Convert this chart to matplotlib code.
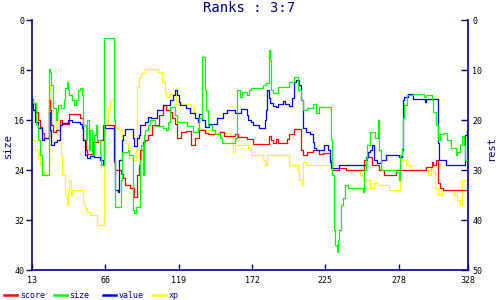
import matplotlib
matplotlib.use("Agg")
import matplotlib.pyplot as plt
from matplotlib.lines import Line2D

# ---------------- data ----------------
x_ticks = [13, 66, 119, 172, 225, 278, 328]
left_ticks = [0, 8, 16, 24, 32, 40]
right_ticks = [0, 10, 20, 30, 40, 50]

score_x = [13, 14, 15, 17, 19, 20, 22, 25, 26, 27, 28, 30, 33, 35, 40, 48, 50, 52, 53, 57,
           61, 64, 72, 73, 77, 79, 80, 84, 87, 89, 90, 91, 93, 95, 97, 100, 105, 108, 110,
           113, 114, 116, 118, 121, 124, 128, 131, 134, 138, 140, 149, 152, 160, 162, 168,
           173, 184, 186, 187, 189, 191, 197, 199, 202, 207, 209, 212, 216, 220, 223, 228,
           230, 235, 240, 253, 255, 259, 264, 267, 276, 298, 302, 303, 305, 306, 308, 310, 328]
score_y = [15.8, 16.6, 18.4, 20, 21.4, 22.6, 23.6, 16, 18, 21, 22.4, 22, 20, 20.8, 18.8, 19.6,
           24, 26, 26.8, 24.4, 24, 21, 28.4, 30, 30.8, 31.6, 33, 33.6, 35.4, 31, 29, 26, 24.4,
           24, 23, 21, 19, 17, 18, 18.4, 19.6, 20.8, 23.6, 22.4, 22.2, 25, 23.6, 22, 22.6,
           22.8, 22.4, 23.2, 22.8, 23.4, 23.8, 24.8, 23.2, 24, 24.6, 23.8, 24.6, 23.8, 22.8,
           21.8, 26, 27, 26.4, 26, 26.8, 26.6, 28, 30, 29.6, 30, 28, 27.4, 29, 30, 31, 30,
           29.4, 28.4, 29, 28, 32.6, 33.6, 34, 34]

size_x = [13, 14, 16, 17, 19, 20, 25, 26, 27, 28, 30, 31, 32, 34, 36, 37, 38, 39, 40, 42, 43,
          45, 46, 48, 49, 50, 52, 53, 54, 55, 56, 58, 59, 60, 62, 63, 65, 71, 72, 73, 76, 77,
          78, 82, 83, 86, 87, 88, 90, 91, 92, 93, 94, 95, 97, 98, 102, 108, 110, 111, 113,
          116, 118, 122, 125, 129, 133, 134, 136, 138, 139, 140, 143, 145, 149, 150, 152,
          160, 161, 163, 165, 168, 170, 171, 180, 182, 184, 185, 186, 187, 191, 199, 202,
          205, 207, 209, 212, 216, 218, 220, 228, 229, 230, 231, 232, 233, 234, 235, 236,
          238, 239, 241, 250, 252, 253, 254, 255, 257, 261, 263, 264, 265, 270, 276, 278,
          279, 280, 281, 282, 284, 288, 296, 298, 302, 303, 305, 306, 308, 311, 313, 316,
          319, 320, 322, 324, 325, 326, 328]
size_y = [12.8, 13.3, 16.8, 19.2, 21.6, 24.8, 7.8, 8.3, 10.4, 14.1, 16, 14.7, 13.6, 14.1,
          12.8, 10.9, 9.9, 11.2, 12, 12.8, 13.6, 12.8, 11.2, 10.9, 12, 16.8, 19.2, 16, 20.8,
          17.6, 21.6, 18.4, 16.8, 19.2, 21.6, 23.2, 2.9, 2.9, 16, 29.9, 29.9, 25.6, 21.1,
          20.8, 21.6, 30.4, 30.9, 29.9, 29.9, 22.4, 20, 24.8, 18.4, 17.6, 16.8, 16, 17,
          17.3, 17.6, 16.3, 13.9, 15.2, 16.3, 16.3, 17, 17.9, 17.3, 15.7, 5.9, 11.2, 14.4,
          16.8, 17.6, 18.2, 18.9, 19.7, 19.7, 18.9, 11.2, 12.3, 11.5, 12, 11.2, 10.9, 10.4,
          10.1, 4.8, 6.4, 11.2, 11.7, 10.7, 9.9, 9.1, 11.2, 12.8, 14.4, 14.1, 13.4, 14.9,
          13.9, 13.9, 19.2, 24.8, 33.6, 36, 37.1, 35.2, 33.6, 29.6, 28.5, 26.4, 26.9, 26.9,
          27.5, 24, 22.1, 20, 17.9, 18.9, 16, 20.8, 24, 24, 24.3, 25.6, 21.6, 20.5, 15.7,
          13.6, 12, 11.8, 12.3, 12, 12.8, 14.7, 16.8, 19.2, 18.2, 18.1, 19.2, 20.5, 21.6,
          21.1, 20, 18.6, 20, 22.4, 20.8]

value_x = [13, 14, 15, 17, 20, 22, 25, 26, 27, 29, 31, 33, 35, 39, 42, 48, 49, 50, 51, 53,
           55, 58, 62, 64, 65, 66, 71, 72, 73, 75, 76, 78, 79, 80, 86, 87, 89, 90, 91, 95,
           97, 99, 103, 108, 113, 115, 116, 118, 119, 120, 124, 127, 131, 133, 134, 136,
           138, 141, 147, 151, 154, 160, 164, 168, 169, 171, 173, 177, 181, 182, 183, 184,
           185, 187, 189, 191, 194, 196, 199, 201, 202, 204, 206, 207, 209, 211, 214, 216,
           217, 218, 224, 227, 228, 229, 235, 254, 256, 257, 259, 260, 262, 265, 269, 278,
           280, 281, 282, 285, 288, 297, 298, 305, 306, 307, 312, 325, 326, 327, 328]
value_y = [16.6, 18, 20.4, 21.6, 24, 23.6, 18.4, 22, 25, 24.4, 24, 21, 20.6, 20, 20.4, 20.8,
           21.6, 24, 27, 27.6, 27.2, 27.4, 28, 29, 21, 21.6, 21.6, 28, 34, 34.4, 28, 24, 23,
           21.8, 23.6, 25.2, 23.6, 23, 21, 20.4, 19.4, 19.6, 18, 17, 16, 15, 14, 15, 16.4,
           17, 17.6, 18.6, 19.6, 20.4, 18.8, 20, 21.4, 20.8, 19.6, 18.6, 18, 18.6, 17.8, 19,
           20, 20.4, 21, 21.6, 20, 18, 14, 15.6, 16.6, 17.2, 17.4, 16.8, 16.2, 16.8, 17.2,
           15.6, 12.4, 12, 13, 16, 21.6, 22.4, 22.8, 24.4, 25.6, 26, 25, 26, 28.4, 29.6, 29,
           27.4, 26.4, 26, 25, 28, 28.6, 28, 27, 27.4, 26, 16, 15.4, 14.8, 15.8, 16.4, 15.8,
           15.8, 24.6, 28, 29, 29, 23, 22, 24]

xp_x = [13, 15, 17, 19, 20, 22, 25, 26, 27, 28, 30, 31, 33, 34, 35, 37, 38, 39, 40, 41, 42,
        50, 51, 53, 55, 60, 65, 66, 68, 69, 70, 72, 73, 76, 78, 80, 82, 83, 86, 88, 89, 90,
        92, 95, 104, 107, 109, 110, 112, 117, 128, 130, 131, 133, 134, 138, 145, 149, 151,
        157, 158, 160, 169, 171, 180, 181, 183, 199, 205, 206, 208, 209, 211, 241, 250, 252,
        257, 260, 263, 271, 278, 279, 280, 283, 287, 299, 301, 303, 304, 306, 309, 318, 320,
        322, 324, 328]
xp_y = [24, 26, 27.6, 29, 30.4, 31, 13, 14, 18, 19.6, 21.6, 23, 24.4, 27, 31, 35, 37, 34, 32,
        35, 34, 36.6, 37.6, 38.4, 39, 41, 26.4, 21, 17.6, 16.4, 16, 20, 21.6, 22, 24, 24.6,
        26.4, 27.6, 28, 26, 13.4, 11.4, 10.6, 9.8, 10.4, 12.4, 14.4, 15.4, 14.8, 16.8, 17.4,
        18.4, 19.6, 20.8, 21.8, 22, 22.6, 22.2, 22.6, 23.6, 26.4, 25, 25.6, 27, 28, 29, 27,
        29, 30, 32, 33, 28.4, 29, 30, 31, 32, 33.6, 32.6, 33, 34, 34, 27, 28, 29, 30, 31,
        29.6, 30.4, 33.6, 35, 34, 35, 36, 37, 32, 32]

series_names = ["score", "size", "value", "xp"]
series_colors = ["#ff0000", "#00ff00", "#0000ff", "#ffff00"]

# ---------------- style ----------------
NAVY = "#000080"
MONO = "DejaVu Sans Mono"

fig = plt.figure(figsize=(5, 3), dpi=100)
ax = fig.add_axes([32 / 500, 30 / 300, 436 / 500, 250 / 300])
ax2 = ax.twinx()

ax.set_xlim(x_ticks[0], x_ticks[-1])
ax.set_ylim(left_ticks[-1], left_ticks[0])
ax2.set_ylim(right_ticks[-1], right_ticks[0])

lw = 0.9
ax2.plot(score_x, score_y, color=series_colors[0], lw=lw, drawstyle="steps-post", zorder=2)
ax2.plot(xp_x, xp_y, color=series_colors[3], lw=lw, drawstyle="steps-post", zorder=1)
ax2.plot(value_x, value_y, color=series_colors[2], lw=lw, drawstyle="steps-post", zorder=3)
ax.plot(size_x, size_y, color=series_colors[1], lw=lw, drawstyle="steps-post")
ax.set_zorder(ax2.get_zorder() + 1)
ax.patch.set_visible(False)

ax.set_xticks(x_ticks)
ax.set_yticks(left_ticks)
ax2.set_yticks(right_ticks)

for a in (ax, ax2):
    a.spines["top"].set_visible(False)
ax.spines["right"].set_visible(False)
ax2.spines["left"].set_visible(False)
ax2.spines["bottom"].set_visible(False)
for s in ("left", "bottom"):
    ax.spines[s].set_color(NAVY)
    ax.spines[s].set_linewidth(1.2)
ax2.spines["right"].set_color(NAVY)
ax2.spines["right"].set_linewidth(1.2)

ax.tick_params(axis="y", direction="out", length=4, width=1, color=NAVY,
               labelsize=6, pad=1.5, labelcolor="black")
ax.tick_params(axis="x", direction="in", length=4, width=1, color=NAVY,
               labelsize=6, pad=4, labelcolor="black")
ax2.tick_params(axis="y", direction="in", length=5, width=1, color=NAVY,
                labelsize=6, pad=3, labelcolor="black")
for lab in ax.get_xticklabels() + ax.get_yticklabels() + ax2.get_yticklabels():
    lab.set_family(MONO)

fig.text(249 / 500, 1 - 8.5 / 300, "Ranks : 3:7", ha="center", va="center",
         color=NAVY, family=MONO, fontsize=10)
fig.text(8 / 500, 1 - 145 / 300, "size", rotation=90, ha="center", va="center",
         color=NAVY, family=MONO, fontsize=7.5)
fig.text(491 / 500, 1 - 148 / 300, "rest", rotation=90, ha="center", va="center",
         color=NAVY, family=MONO, fontsize=7.5)

# legend
for i, (name, col) in enumerate(zip(series_names, series_colors)):
    x0 = 4 + i * 49.5
    fig.add_artist(Line2D([x0 / 500, (x0 + 13) / 500], [1 - 295 / 300] * 2,
                          color=col, lw=1.8, transform=fig.transFigure))
    fig.text((x0 + 16) / 500, 1 - 295 / 300, name, ha="left", va="center",
             color=NAVY, family=MONO, fontsize=6)

fig.savefig("out.png", dpi=100)
